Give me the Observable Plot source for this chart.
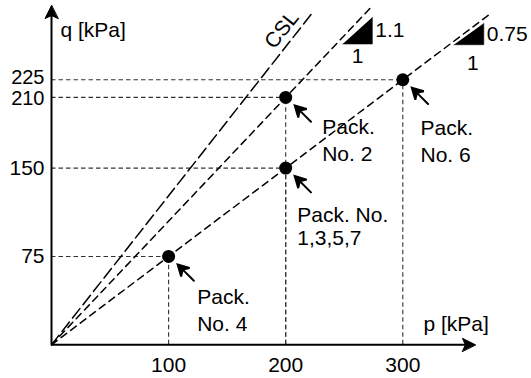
<!DOCTYPE html>
<html>
<head>
<meta charset="utf-8">
<script src="https://cdn.jsdelivr.net/npm/d3@7"></script>
<script src="https://cdn.jsdelivr.net/npm/@observablehq/plot@0.6"></script>
<style>
  html, body { margin: 0; padding: 0; background: #fff; }
</style>
</head>
<body>
<div id="chart"></div>
<script>
// ---- data (kPa) ----
const packNames = ["Pack.\nNo. 2", "Pack. No.\n1,3,5,7", "Pack.\nNo. 4", "Pack.\nNo. 6"];
const packP = [200, 200, 100, 300];
const packQ = [210, 150, 75, 225];

const xTicks = [100, 200, 300];
const yTicks = [75, 150, 210, 225];

const lineNames = ["CSL", "M 1.05", "M 0.75"];
const lineSlopes = [1.265, 1.05, 0.75];
const lineEndP = [223, 272, 375];

const triLabels = ["1.1", "0.75"];
const triP = [248.7, 343.6];
const triQ = [255.3, 254.7];
const triRun = [25.3, 25.6];
const triRise = [22.7, 18.3];

const axisTipP = 362;
const axisTipQ = 288;

// ---- derived tables ----
const packs = packNames.map((name, i) => ({name, p: packP[i], q: packQ[i]}));
const lines = lineNames.flatMap((name, i) => [
  {name, p: 0, q: 0},
  {name, p: lineEndP[i], q: lineSlopes[i] * lineEndP[i]}
]);
const tris = triLabels.map((label, i) => ({label, p: triP[i], q: triQ[i], run: triRun[i], rise: triRise[i]}));
const triVerts = tris.flatMap(t => [
  {label: t.label, p: t.p, q: t.q},
  {label: t.label, p: t.p + t.run, q: t.q},
  {label: t.label, p: t.p + t.run, q: t.q + t.rise}
]);

const kx = 1.171, ky = 1.178;
const x0 = 51, y0 = 344.3;

const pointer = {
  draw(ctx, l) {
    const h = 11, w = 6;
    ctx.moveTo(0, 0); ctx.lineTo(0, -l + h * 0.6);
    ctx.moveTo(0, -l); ctx.lineTo(-w, -l + h); ctx.lineTo(0, -l + h * 0.65); ctx.lineTo(w, -l + h); ctx.closePath();
  }
};
const axisHead = {
  draw(ctx, l) {
    const w = 6.5;
    ctx.moveTo(0, -l); ctx.lineTo(-w, 0); ctx.lineTo(0, -3); ctx.lineTo(w, 0); ctx.closePath();
  }
};

const guideStyle = {stroke: "#333", strokeWidth: 1.1, strokeDasharray: "4.5,3"};

const chart = Plot.plot({
  width: 531,
  height: 378,
  marginLeft: x0,
  marginBottom: 378 - y0,
  marginTop: 0,
  marginRight: 0,
  x: {domain: [0, 400], range: [x0, x0 + 400 * kx]},
  y: {domain: [0, 300], range: [y0, y0 - 300 * ky]},
  style: {fontFamily: "'Liberation Sans', Arial, Helvetica, sans-serif", fontSize: "21px", background: "white", color: "black"},
  marks: [
    // guide lines
    Plot.ruleY(packs, {y: "q", x1: 0, x2: "p", ...guideStyle}),
    Plot.ruleX(packs, {x: "p", y1: 0, y2: "q", ...guideStyle}),
    // slope lines
    Plot.line(lines.filter(d => d.name === "CSL"), {x: "p", y: "q", stroke: "black", strokeWidth: 1.5, strokeDasharray: "12,5"}),
    Plot.line(lines.filter(d => d.name !== "CSL"), {x: "p", y: "q", z: "name", stroke: "black", strokeWidth: 1.5, strokeDasharray: "7,5"}),
    // axes
    Plot.ruleX([0], {y1: 0, y2: axisTipQ - 5, stroke: "black", strokeWidth: 2}),
    Plot.ruleY([0], {x1: 0, x2: axisTipP - 5, stroke: "black", strokeWidth: 2}),
    Plot.vector([0], {x: 0, y: axisTipQ, length: 13, rotate: 0, anchor: "end", shape: axisHead, fill: "black", stroke: "black", strokeWidth: 1}),
    Plot.vector([0], {x: axisTipP, y: 0, length: 13, rotate: 90, anchor: "end", shape: axisHead, fill: "black", stroke: "black", strokeWidth: 1}),
    Plot.axisX(xTicks, {tickSize: 0, tickPadding: 12, label: null, fontSize: 21}),
    Plot.axisY(yTicks.filter(t => t !== 225 && t !== 210), {tickSize: 0, tickPadding: 7, label: null, fontSize: 21}),
    Plot.axisY(yTicks.filter(t => t === 210), {tickSize: 0, tickPadding: 7, label: null, fontSize: 20, dy: 1.5}),
    Plot.axisY(yTicks.filter(t => t === 225), {tickSize: 0, tickPadding: 7, label: null, fontSize: 20, dy: -2}),
    Plot.text(["q [kPa]"], {frameAnchor: "top-left", dx: 60 - x0, dy: 22, textAnchor: "start", lineAnchor: "top", fontSize: 21}),
    Plot.text(["p [kPa]"], {frameAnchor: "top-left", dx: 423 - x0, dy: 316, textAnchor: "start", lineAnchor: "top", fontSize: 21}),
    // CSL label
    Plot.text(["CSL"], {x: 200, y: 200 * lineSlopes[0], dx: -4, dy: -17, rotate: -51.7, textAnchor: "middle", lineAnchor: "middle", fontSize: 21}),
    // slope triangles
    Plot.line(triVerts, {x: "p", y: "q", z: "label", fill: "black", stroke: "black", strokeWidth: 0.5}),
    Plot.text(tris, {x: d => d.p + d.run, y: d => d.q + d.rise / 2, text: "label", dx: 3, textAnchor: "start", lineAnchor: "middle", fontSize: 21}),
    Plot.text(tris.slice(0, 1), {x: d => d.p + d.run / 2, y: "q", text: () => "1", dy: 12.5, lineAnchor: "middle", fontSize: 21}),
    Plot.text(tris.slice(1, 2), {x: d => d.p + d.run / 2, y: "q", text: () => "1", dx: 4, dy: 19, lineAnchor: "middle", fontSize: 21}),
    // points
    Plot.dot(packs, {x: "p", y: "q", r: 6.5, fill: "black"}),
    // pointers
    Plot.vector(packs, {x: "p", y: "q", length: 23, rotate: -45, anchor: "end", shape: pointer, dx: 9, dy: 8, fill: "black", stroke: "black", strokeWidth: 2, strokeLinejoin: "miter"}),
    // labels
    Plot.text(packs.slice(0, 1), {x: "p", y: "q", text: "name", dx: 36.5, dy: 18, textAnchor: "start", lineAnchor: "top", lineHeight: 1.27, fontSize: 21}),
    Plot.text(packs.slice(1, 2), {x: "p", y: "q", text: "name", dx: 11.5, dy: 37.3, textAnchor: "start", lineAnchor: "top", lineHeight: 1.11, fontSize: 21}),
    Plot.text(packs.slice(2, 3), {x: "p", y: "q", text: "name", dx: 28.6, dy: 29, textAnchor: "start", lineAnchor: "top", lineHeight: 1.27, fontSize: 21}),
    Plot.text(packs.slice(3, 4), {x: "p", y: "q", text: "name", dx: 17.7, dy: 36.7, textAnchor: "start", lineAnchor: "top", lineHeight: 1.27, fontSize: 21})
  ]
});
document.getElementById("chart").appendChild(chart);
</script>
</body>
</html>
